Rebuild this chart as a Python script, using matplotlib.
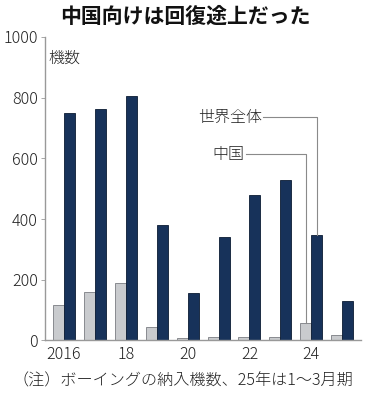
import numpy as np
import matplotlib
matplotlib.use("Agg")
import matplotlib.pyplot as plt

plt.rcParams['font.family'] = ['Noto Sans CJK JP', 'DejaVu Sans']

years = [2016, 2017, 2018, 2019, 2020, 2021, 2022, 2023, 2024, 2025]
world = [748, 763, 806, 380, 157, 340, 480, 528, 348, 130]
china = [118, 160, 190, 45, 8, 10, 12, 10, 56, 17]
xtick_vals = [2016, 2018, 2020, 2022, 2024]
xtick_labels = ["2016", "18", "20", "22", "24"]
yticks = [0, 200, 400, 600, 800, 1000]

title = "中国向けは回復途上だった"
note = "（注）ボーイングの納入機数、25年は1～3月期"

fig = plt.figure(figsize=(3.71, 3.96), dpi=100)
ax = fig.add_axes([0.1213, 0.1404, 0.8517, 0.7664])

x = np.array(years)
w = 0.356
ax.bar(x - w / 2, china, width=w, color="#c9cbce", edgecolor="#7a7d82", linewidth=0.6)
ax.bar(x + w / 2, world, width=w, color="#17325a", edgecolor="#0b1b33", linewidth=0.6)

ax.set_xlim(2015.385, 2025.61)
ax.set_ylim(0, 1000)
ax.set_xticks(xtick_vals)
ax.set_xticklabels(xtick_labels)
ax.set_yticks(yticks)
ax.tick_params(axis="x", length=0, pad=4, labelsize=11.5, colors="#222222")
ax.tick_params(axis="y", length=3, width=0.6, color="#999999", pad=2,
               labelsize=11.5, labelcolor="#222222")
for lab in ax.get_xticklabels() + ax.get_yticklabels():
    lab.set_fontweight("light")
for s in ["top", "right"]:
    ax.spines[s].set_visible(False)
for s in ["left", "bottom"]:
    ax.spines[s].set_color("#999999")
    ax.spines[s].set_linewidth(1.0)

ax.text(0.01, 0.93, "機数", transform=ax.transAxes, fontsize=11.5,
        va="center", ha="left", color="#222222", fontweight="light")

# leader lines to the 2024 bars
i24 = years.index(2024)
wx = 2024 + w / 2
cx = 2024 - w / 2
ax.plot([wx, wx, 2022.45], [world[i24], 735, 735], color="#8a8a8a", lw=0.8, clip_on=False)
ax.plot([cx, cx, 2021.9], [china[i24], 613, 613], color="#8a8a8a", lw=0.8, clip_on=False)
ax.text(2022.4, 735, "世界全体", ha="right", va="center", fontsize=11.5,
        color="#222222", fontweight="light")
ax.text(2021.85, 613, "中国", ha="right", va="center", fontsize=11.5,
        color="#222222", fontweight="light")

fig.text(0.5, 0.96, title, ha="center", va="center", fontsize=15,
         fontweight="bold", color="#111111")
fig.text(0.492, 0.038, note, ha="center", va="center", fontsize=11.6,
         color="#222222", fontweight="light")

fig.savefig("out.png", dpi=100)
